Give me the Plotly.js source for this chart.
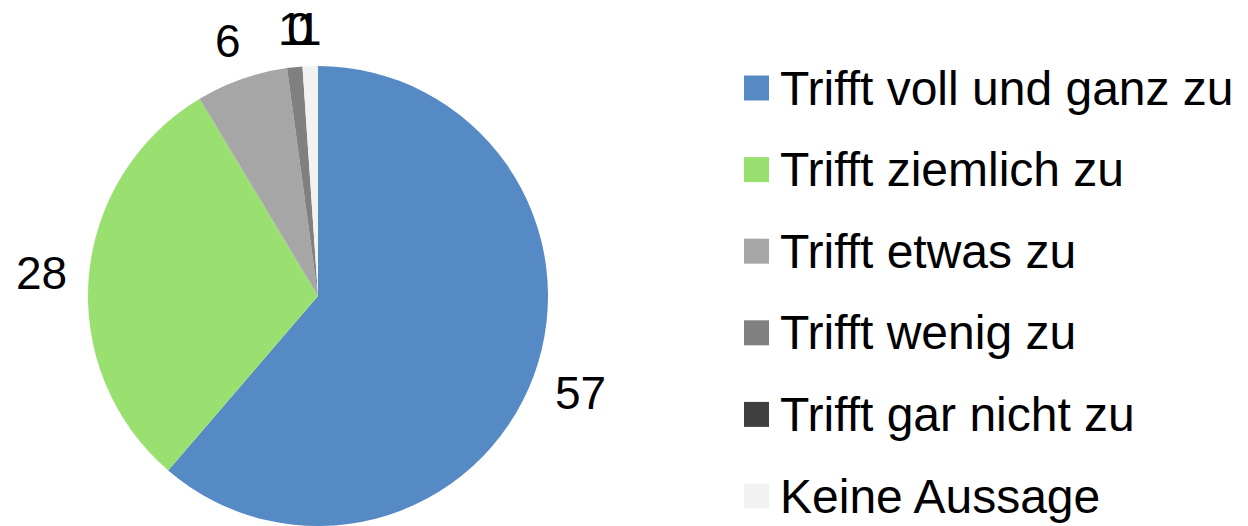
<!DOCTYPE html>
<html>
<head>
<meta charset="utf-8">
<script src="https://cdn.plot.ly/plotly-3.0.1.min.js"></script>
<style>html,body{margin:0;padding:0;background:#fff}#chart{width:1248px;height:526px}</style>
</head>
<body>
<div id="chart"></div>
<script>
const categories = ["Trifft voll und ganz zu", "Trifft ziemlich zu", "Trifft etwas zu", "Trifft wenig zu", "Trifft gar nicht zu", "Keine Aussage"];
const values = [57, 28, 6, 1, 0, 1];
const colors = ["#558AC4", "#9AE070", "#A6A6A6", "#808080", "#404040", "#F2F2F2"];

const W = 1248, H = 526;
const px = x => x / W;
const py = y => (H - y) / H;
const FONT = "Liberation Sans, Arial, sans-serif";

// pie geometry (pixels)
const CX = 318, CY = 296, R = 230;

const trace = {
  type: "pie",
  labels: categories,
  values: values,
  sort: false,
  direction: "clockwise",
  rotation: 0,
  marker: {colors: colors, line: {width: 0}},
  textinfo: "none",
  hoverinfo: "label+value",
  domain: {x: [px(CX - R), px(CX + R)], y: [py(CY + R), py(CY - R)]},
  showlegend: false
};

const shapes = [], annotations = [];

// data labels placed just outside each slice (Excel style, overlapping allowed)
const total = values.reduce((a, b) => a + b, 0);
let cum = 0;
values.forEach((v, i) => {
  const mid = (cum + v / 2) / total * 2 * Math.PI;
  cum += v;
  const s = Math.sin(mid), c = Math.cos(mid);
  const txt = String(v);
  const w = txt.length * 26, h = 34;
  const d = R + 20 + Math.abs(s) * w / 2 + Math.abs(c) * h / 2;
  annotations.push({xref: "paper", yref: "paper",
    x: px(CX + d * s), y: py(CY - d * c),
    xanchor: "center", yanchor: "middle", showarrow: false, text: txt,
    font: {family: FONT, size: 46, color: "#000"}});
});

// custom legend (large symbols and wide row spacing as in the reference)
const legTop = 88, legStep = 81.6, sq = 25;
categories.forEach((cat, i) => {
  const yc = legTop + i * legStep;
  shapes.push({type: "rect", xref: "paper", yref: "paper",
    x0: px(744), x1: px(744 + sq), y0: py(yc + sq / 2), y1: py(yc - sq / 2),
    fillcolor: colors[i], line: {width: 0}});
  annotations.push({xref: "paper", yref: "paper", x: px(778), y: py(yc),
    xanchor: "left", yanchor: "middle", showarrow: false, text: cat,
    font: {family: FONT, size: 48, color: "#000"}});
});

const layout = {
  width: W, height: H,
  margin: {l: 0, r: 0, t: 0, b: 0},
  paper_bgcolor: "#fff",
  showlegend: false,
  shapes: shapes,
  annotations: annotations
};

Plotly.newPlot("chart", [trace], layout, {displayModeBar: false, staticPlot: true});
</script>
</body>
</html>
